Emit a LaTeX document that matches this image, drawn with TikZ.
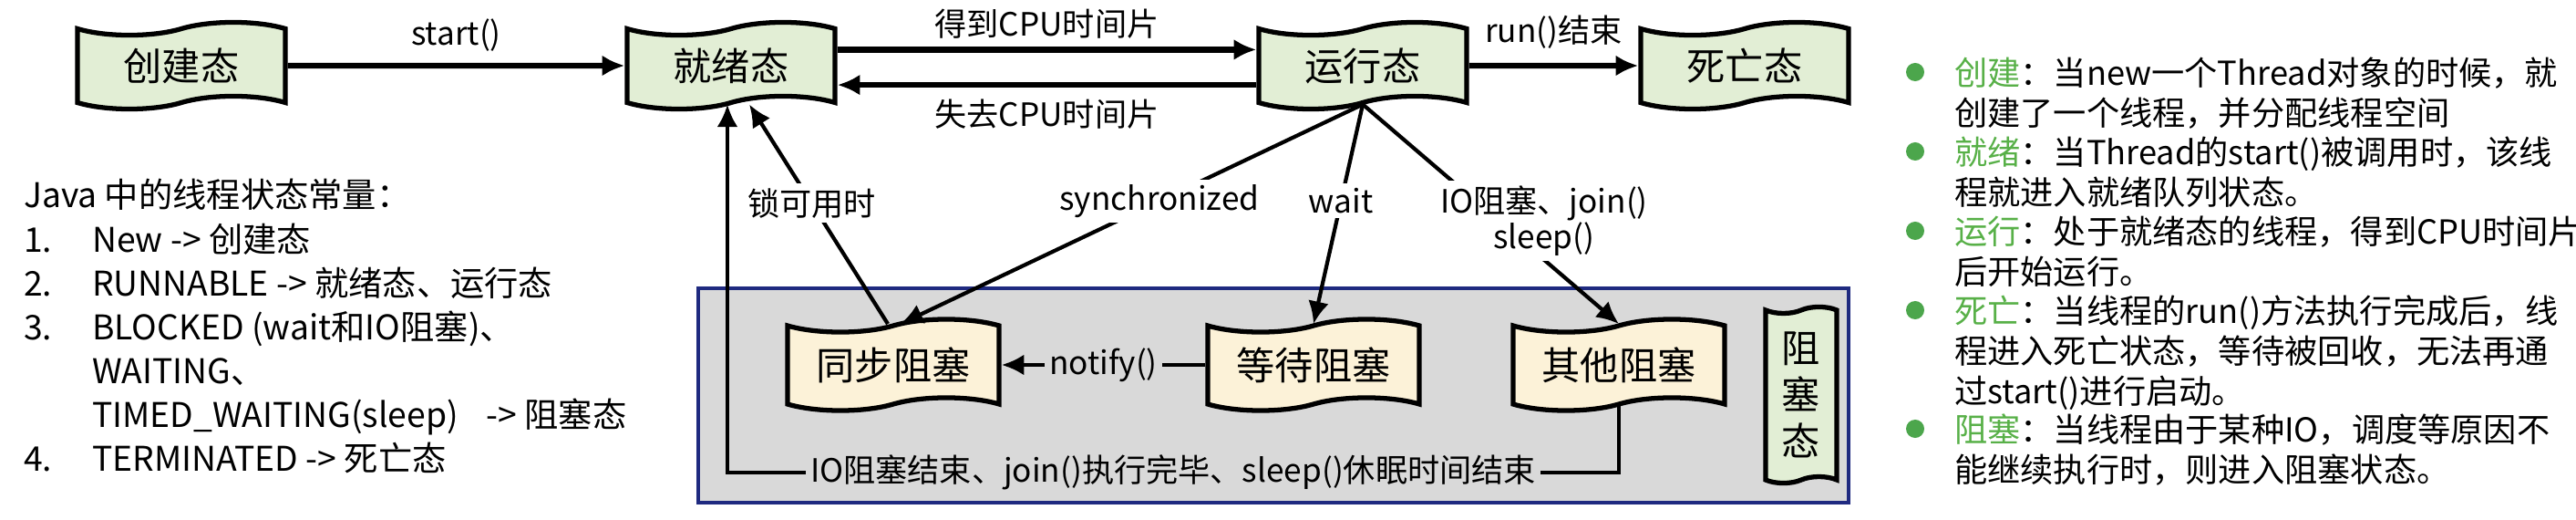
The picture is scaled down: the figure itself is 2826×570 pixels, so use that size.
\documentclass[tikz,border=0pt]{standalone}
\usepackage{fontspec}
\setmainfont{Noto Sans CJK SC}
\usetikzlibrary{arrows.meta, shapes.symbols}

\definecolor{stategreen}{HTML}{E2EED5}
\definecolor{blockyellow}{HTML}{FCF2D8}
\definecolor{blockgray}{HTML}{D9D9D9}
\definecolor{framenavy}{HTML}{1F2A80}
\definecolor{bulletgreen}{HTML}{4CA64C}
\definecolor{keygreen}{HTML}{58B048}

\begin{document}
\begin{tikzpicture}[x=0.01cm, y=-0.01cm, >={Latex[length=7pt,width=6.5pt]}, line width=1.2pt]
    \tikzstyle{wavy}=[tape, draw, line width=1.5pt, tape bend top=in and out, tape bend bottom=in and out, tape bend height=4pt]
    \tikzstyle{statebox}=[wavy, fill=stategreen, minimum width=2.28cm, minimum height=0.95cm, font=\fontsize{12pt}{14pt}\selectfont]
    \tikzstyle{blockbox}=[wavy, fill=blockyellow, minimum width=2.32cm, minimum height=1cm, font=\fontsize{12pt}{14pt}\selectfont]
    \tikzstyle{lbl}=[font=\fontsize{10pt}{11pt}\selectfont, inner sep=1.5pt]
    \useasboundingbox (0,0) rectangle (2826,570);
    \draw[framenavy, line width=1pt, fill=blockgray] (766,316) rectangle (2028,551);
    \node[statebox] (create) at (199,72) {创建态};
    \node[statebox] (ready) at (802,72) {就绪态};
    \node[statebox] (run) at (1495,72) {运行态};
    \node[statebox] (dead) at (1914,72) {死亡态};
    \node[blockbox] (sync) at (980,400) {同步阻塞};
    \node[blockbox] (wait) at (1441,400) {等待阻塞};
    \node[blockbox] (other) at (1776,400) {其他阻塞};
    \node[statebox, tape bend height=2pt, minimum width=0.78cm, minimum height=1.93cm, align=center, font=\fontsize{12pt}{14.5pt}\selectfont] (blocked) at (1976,433) {阻\\塞\\态};
    \coordinate (wake) at (798,518);
    \draw[->, line width=1.8pt] (create) -- node[lbl, above=2pt] {start()} (ready);
    \draw[->, line width=1.8pt] ([yshift=5pt]ready.east) -- node[lbl, above=1pt] {得到CPU时间片} ([yshift=5pt]run.west);
    \draw[->, line width=1.8pt] ([yshift=-6pt]run.west) -- node[lbl, below=2pt] {失去CPU时间片} ([yshift=-6pt]ready.east);
    \draw[->, line width=1.8pt] (run) -- node[lbl, above=3pt] {run()结束} (dead);
    \draw[->] (other.south) |- node[lbl, pos=0.75, fill=blockgray] {IO阻塞结束、join()执行完毕、sleep()休眠时间结束} (wake) -- (wake |- ready.south);
    \draw[->] ([xshift=-0.06cm]sync.north) -- node[lbl, pos=0.55, fill=white] {锁可用时} ([xshift=0.2cm]ready.south);
    \draw[->] (run.south) -- node[lbl, pos=0.44, fill=white] {synchronized} ([xshift=0.08cm]sync.north);
    \draw[->] (run.south) -- node[lbl, pos=0.44, fill=white] {wait} (wait.north);
    \draw[->] (run.south) -- node[lbl, pos=0.53, xshift=0.5cm, fill=white, align=center] {IO阻塞、join()\\sleep()} (other.north);
    \draw[->] (wait.west) -- node[lbl, fill=blockgray] {notify()} (sync.east);
    \node[anchor=north west, inner sep=0pt, font=\fontsize{10.6pt}{13.7pt}\selectfont] (consts) at (24,192) {%
        \begin{tabular}{@{}p{0.75cm}@{}l@{}}
        \multicolumn{2}{@{}l@{}}{Java 中的线程状态常量：}\\
        1. & New -> 创建态\\
        2. & RUNNABLE -> 就绪态、运行态\\
        3. & BLOCKED (wait和IO阻塞)、\\
           & WAITING、\\
           & TIMED\_WAITING(sleep)\hspace{0.6em} -> 阻塞态\\
        4. & TERMINATED -> 死亡态
        \end{tabular}};
    \foreach \kw/\yy/\txt [count=\i] in {%
        创建/61/{当new一个Thread对象的时候，就\\创建了一个线程，并分配线程空间},
        就绪/148/{当Thread的start()被调用时，该线\\程就进入就绪队列状态。},
        运行/235/{处于就绪态的线程，得到CPU时间片\\后开始运行。},
        死亡/322/{当线程的run()方法执行完成后，线\\程进入死亡状态，等待被回收，无法再通\\过start()进行启动。},
        阻塞/452/{当线程由于某种IO，调度等原因不\\能继续执行时，则进入阻塞状态。}} {
        \node[anchor=north west, inner sep=0pt, align=left, font=\fontsize{10.3pt}{12.4pt}\selectfont] (item\i) at (2142,\yy) {\textcolor{keygreen}{\kw}：\txt};
        \node[circle, fill=bulletgreen, minimum size=0.2cm, inner sep=0pt] (dot\i) at (2101,\yy+18) {};
    }
\end{tikzpicture}
\end{document}
